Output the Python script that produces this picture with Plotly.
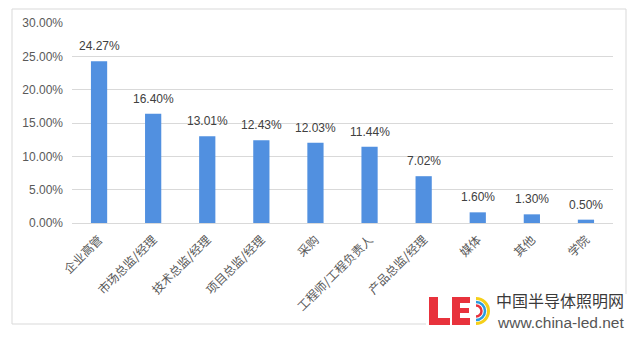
import plotly.graph_objects as go

# Job role distribution
roles = ["企业高管", "市场总监/经理", "技术总监/经理", "项目总监/经理", "采购",
         "工程师/工程负责人", "产品总监/经理", "媒体", "其他", "学院"]
shares = [24.27, 16.40, 13.01, 12.43, 12.03, 11.44, 7.02, 1.60, 1.30, 0.50]
y_ticks = [0, 5, 10, 15, 20, 25, 30]
y_tick_labels = [f"{v:.2f}%" for v in y_ticks]

W, H = 640, 338
ML, MR, MT, MB = 72, 27, 23, 115
PW, PH = W - ML - MR, H - MT - MB


def px(x):
    return (x - ML) / PW


def py(y):
    return (H - MB - y) / PH


fig = go.Figure(go.Bar(
    x=roles, y=shares,
    marker=dict(color="#5190E0", line=dict(width=0)),
    cliponaxis=False,
    width=0.3,
))

shapes = [
    # outer chart frame
    dict(type="rect", xref="paper", yref="paper",
         x0=px(12), x1=px(626), y0=py(324), y1=py(9),
         line=dict(color="#D9D9D9", width=1), fillcolor="rgba(0,0,0,0)", layer="below"),
    # white backing behind the logo
    dict(type="rect", xref="paper", yref="paper",
         x0=px(426), x1=px(634), y0=py(331), y1=py(294),
         line=dict(width=0), fillcolor="white"),
]

red = "#E8323C"
# block letters "L" and "E"
for (x0, x1, y0, y1) in [
    (429, 438, 297, 325), (429, 450, 318, 325),          # L
    (452, 460, 297, 325), (452, 470, 297, 303),          # E
    (452, 469, 308, 313), (452, 470, 318, 325),
]:
    shapes.append(dict(type="rect", xref="paper", yref="paper",
                       x0=px(x0), x1=px(x1), y0=py(y1), y1=py(y0),
                       line=dict(width=0), fillcolor=red))


def arc_path(cx, cy, r):
    # half ring opening to the left, drawn with two cubic curves
    k = 0.5523 * r
    pts = [(cx, cy - r), (cx + k, cy - r), (cx + r, cy - k), (cx + r, cy),
           (cx + r, cy + k), (cx + k, cy + r), (cx, cy + r)]
    p = [(px(a), py(b)) for a, b in pts]
    return (f"M{p[0][0]},{p[0][1]} C{p[1][0]},{p[1][1]} {p[2][0]},{p[2][1]} {p[3][0]},{p[3][1]} "
            f"C{p[4][0]},{p[4][1]} {p[5][0]},{p[5][1]} {p[6][0]},{p[6][1]}")


for (r, col, lw) in [(12.5, "#F5CF1A", 3), (9, "#2A9BE0", 2.5), (5.5, red, 2.5)]:
    shapes.append(dict(type="path", xref="paper", yref="paper",
                       path=arc_path(476, 311, r), line=dict(color=col, width=lw)))

# value labels above each bar
annotations = [
    dict(text=f"{v:.2f}%", x=r, y=v, xref="x", yref="y",
         xanchor="center", yanchor="bottom", yshift=6, showarrow=False,
         font=dict(family="Liberation Sans, Arial", size=12, color="#404040"))
    for r, v in zip(roles, shares)
]

annotations += [
    dict(text="中国半导体照明网", xref="paper", yref="paper", x=px(495), y=py(313),
         xanchor="left", yanchor="bottom", showarrow=False, borderpad=0,
         font=dict(family="Noto Sans CJK SC", size=16, color="#3A3A3A")),
    dict(text="www.china-led.net", xref="paper", yref="paper", x=px(496), y=py(313),
         xanchor="left", yanchor="top", showarrow=False, borderpad=0,
         font=dict(family="Liberation Sans, Arial", size=15.5, color="#555555")),
]

fig.update_layout(
    width=W, height=H,
    margin=dict(l=ML, r=MR, t=MT, b=MB),
    paper_bgcolor="white", plot_bgcolor="white",
    showlegend=False,
    bargap=0.7,
    shapes=shapes,
    annotations=annotations,
    xaxis=dict(
        tickangle=-45,
        tickfont=dict(family="Noto Sans CJK SC", size=12, color="#595959"),
        showline=True, linecolor="#D9D9D9", linewidth=1,
        ticks="", ticklabelstandoff=4,
    ),
    yaxis=dict(
        range=[0, 30],
        tickvals=y_ticks, ticktext=y_tick_labels,
        tickfont=dict(family="Liberation Sans, Arial", size=12, color="#595959"),
        showgrid=True, gridcolor="#D9D9D9", gridwidth=1,
        zeroline=False, ticks="", ticklabelstandoff=8,
    ),
)

fig.write_html("out.html")
